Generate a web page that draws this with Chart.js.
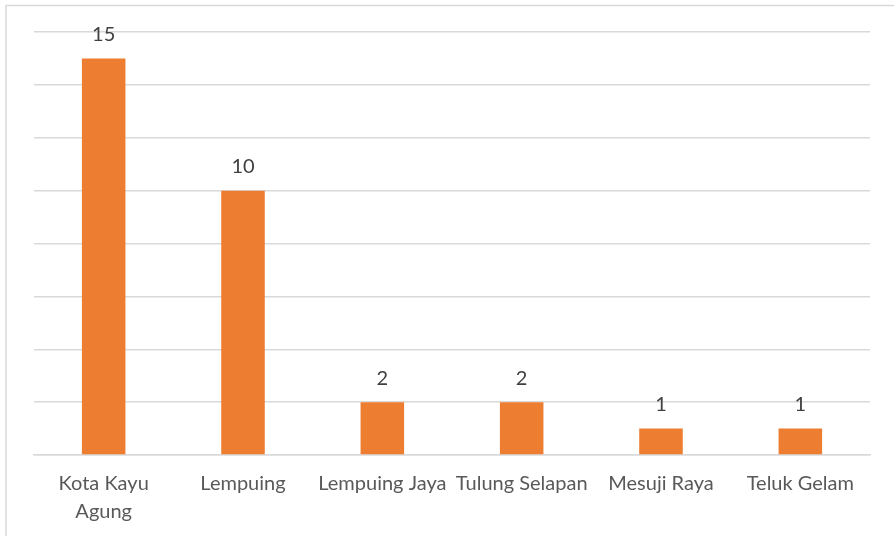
<!DOCTYPE html>
<html>
<head>
<meta charset="utf-8">
<script src="https://cdn.jsdelivr.net/npm/chart.js@4"></script>
<style>
html,body{margin:0;padding:0;background:#fff;}
#wrap{width:894px;height:536px;position:relative;}
</style>
</head>
<body>
<div id="wrap"><canvas id="c" width="894" height="536"></canvas></div>
<script>
const categories = [["Kota Kayu","Agung"], "Lempuing", "Lempuing Jaya", "Tulung Selapan", "Mesuji Raya", "Teluk Gelam"];
const values = [15, 10, 2, 2, 1, 1];
const yMin = 0, yMax = 16, yStep = 2;

const FONT = "Lato, 'Open Sans', sans-serif";
const TEXT = "#595959";

const borderPlugin = {
  id: 'frame',
  beforeDraw(chart) {
    const ctx = chart.ctx;
    ctx.save();
    ctx.fillStyle = '#fff';
    ctx.fillRect(0, 0, chart.width, chart.height);
    ctx.strokeStyle = '#D9D9D9';
    ctx.lineWidth = 1.5;
    ctx.strokeRect(6, 5.5, chart.width + 10, chart.height + 10);
    ctx.restore();
  }
};

const valueLabels = {
  id: 'valueLabels',
  afterDatasetsDraw(chart) {
    const ctx = chart.ctx;
    const meta = chart.getDatasetMeta(0);
    ctx.save();
    ctx.fillStyle = '#404040';
    ctx.font = "20px " + FONT;
    ctx.textAlign = 'center';
    ctx.textBaseline = 'middle';
    meta.data.forEach((bar, i) => {
      ctx.fillText(String(values[i]), bar.x, bar.y - 24);
    });
    ctx.restore();
  }
};

new Chart(document.getElementById('c'), {
  type: 'bar',
  data: {
    labels: categories,
    datasets: [{
      data: values,
      backgroundColor: '#ED7D31',
      borderWidth: 0,
      barPercentage: 0.625,
      categoryPercentage: 0.5
    }]
  },
  options: {
    responsive: false,
    animation: false,
    layout: { padding: { left: 34, right: 24, top: 32, bottom: 0 } },
    plugins: { legend: { display: false }, tooltip: { enabled: false } },
    scales: {
      x: {
        grid: { display: false, drawTicks: false },
        border: { display: true, color: '#D9D9D9', width: 1.5 },
        ticks: {
          color: TEXT,
          font: { family: FONT, size: 20, lineHeight: 1.4 },
          padding: 15,
          maxRotation: 0,
          autoSkip: false
        },
        afterFit(scale) { scale.height = 81; }
      },
      y: {
        min: yMin, max: yMax,
        ticks: { display: false, stepSize: yStep },
        grid: { color: '#D9D9D9', lineWidth: 1.5, drawTicks: false },
        border: { display: false },
        afterFit(scale) { scale.width = 0; }
      }
    }
  },
  plugins: [borderPlugin, valueLabels]
});
</script>
</body>
</html>
